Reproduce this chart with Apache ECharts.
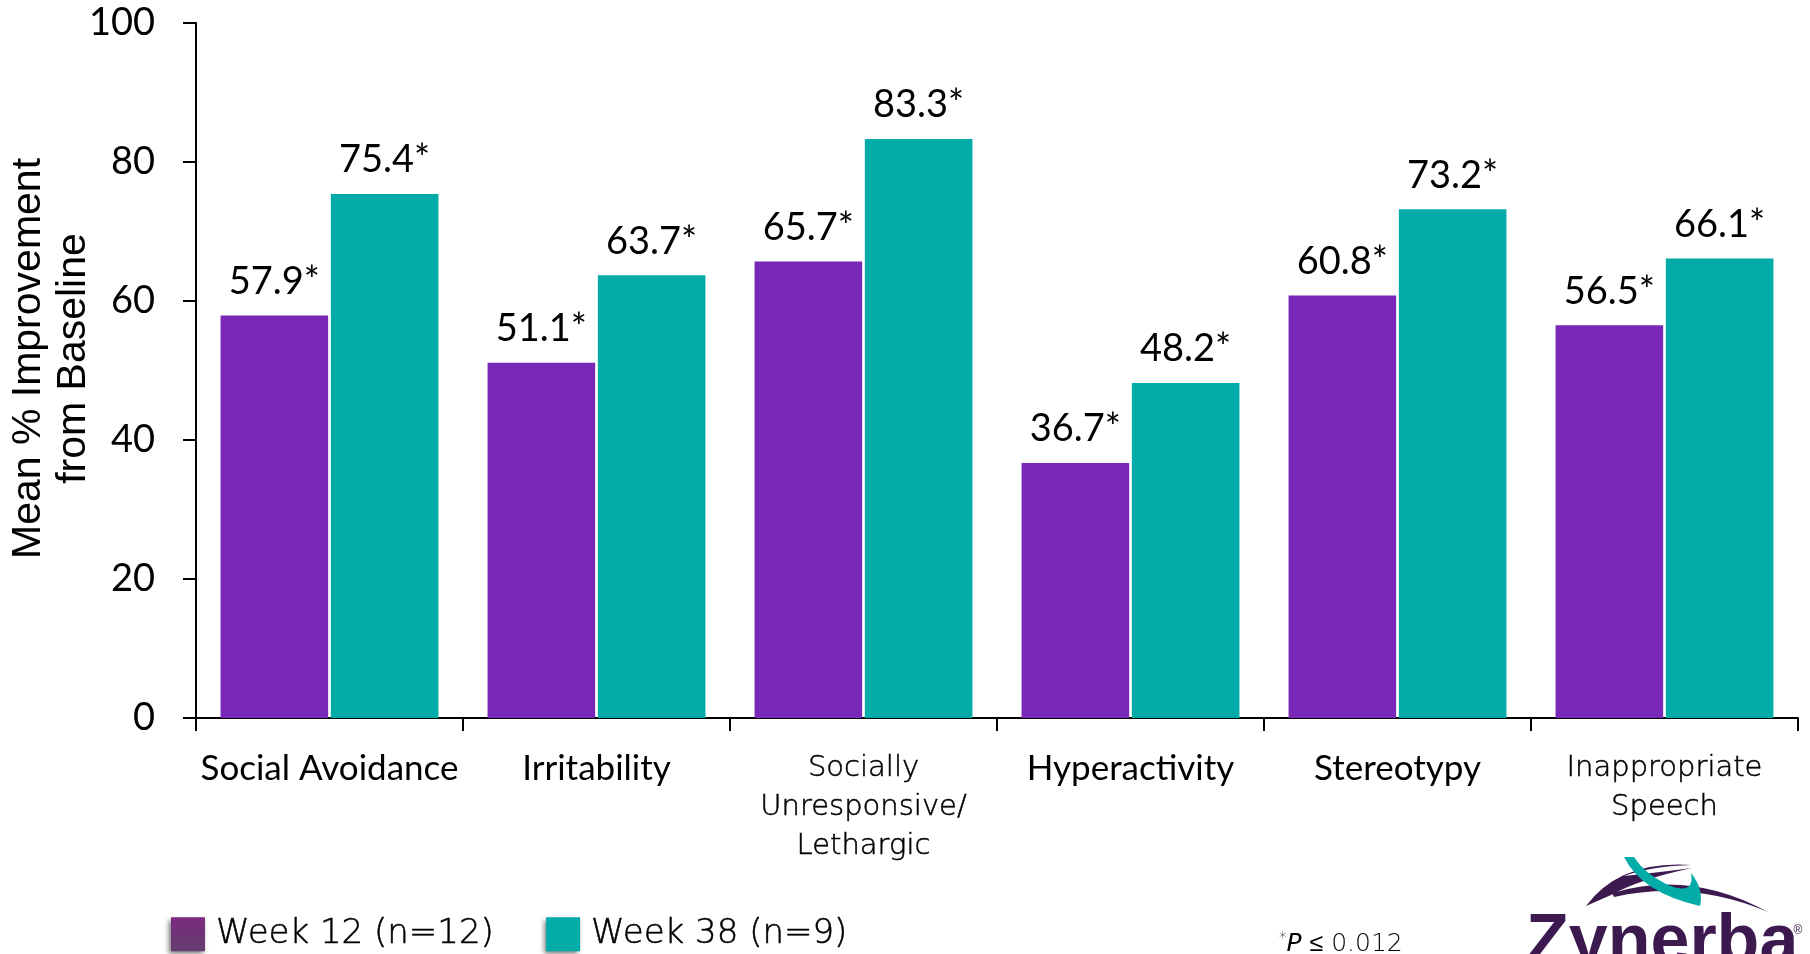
<!DOCTYPE html>
<html>
<head>
<meta charset="utf-8">
<title>Mean % Improvement from Baseline</title>
<script src="https://cdn.jsdelivr.net/npm/echarts@6/dist/echarts.min.js"></script>
<style>
  html, body { margin: 0; padding: 0; background: #ffffff; }
  #chart { width: 1810px; height: 954px; }
</style>
</head>
<body>
<div id="chart"></div>
<script>
// ABC subscale categories
const categories = [
  'Social Avoidance',
  'Irritability',
  'Socially\nUnresponsive/\nLethargic',
  'Hyperactivity',
  'Stereotypy',
  'Inappropriate\nSpeech'
];

// Mean % improvement from baseline per visit
const week12Name = 'Week 12 (n=12)';
const week38Name = 'Week 38 (n=9)';
const week12 = [57.9, 51.1, 65.7, 36.7, 60.8, 56.5];
const week38 = [75.4, 63.7, 83.3, 48.2, 73.2, 66.1];

// Y axis ticks
const yTicks = [0, 20, 40, 60, 80, 100];

const footnote = 'P';
const footnoteTail = ' \u2264 0.012';

const PURPLE = '#7827B6';
const TEAL = '#00ABA8';
const LOGO = '#3C1A4F';
const MAIN_FONT = 'Lato, "Open Sans", sans-serif';
const THIN_FONT = '"DejaVu Sans", sans-serif';

// categories written in the lighter face
const thinLabelIdx = [2, 5];

// swoosh shapes of the company mark
echarts.graphic.registerShape('swooshBig', echarts.graphic.extendPath(
  'M1586 906 Q1620 860 1692 865 Q1652 866 1624 876 Q1662 872 1692 868 Q1640 879 1611 895 Z', {}));
echarts.graphic.registerShape('swooshThin', echarts.graphic.extendPath(
  'M1612 893 Q1690 869 1768 912 Q1692 880 1614 897 Z', {}));
echarts.graphic.registerShape('swooshTeal', echarts.graphic.extendPath(
  'M1624 857 Q1642 893 1700 906 Q1704 889 1691 873 Q1695 897 1666 884 Q1644 873 1634 857 Z', {}));

const chart = echarts.init(document.getElementById('chart'), null, { renderer: 'canvas' });

const yMin = yTicks[0];
const yMax = yTicks[yTicks.length - 1];
const yStep = yTicks[1] - yTicks[0];

// light face, slightly thickened with a hairline outline
const thinText = {
  fontFamily: THIN_FONT,
  fontWeight: 200,
  color: '#000',
  textBorderColor: '#000',
  textBorderWidth: 0.5
};

const option = {
  backgroundColor: '#ffffff',
  animation: false,
  grid: { left: 196, right: 12, top: 23, bottom: 236, containLabel: false, outerBoundsMode: 'none' },
  legend: {
    left: 166,
    top: 912,
    itemWidth: 34,
    itemHeight: 34,
    itemGap: 52,
    icon: 'rect',
    selectedMode: false,
    textStyle: Object.assign({}, thinText, {
      fontSize: 34,
      padding: [0, 0, 0, 6]
    }),
    data: [
      {
        name: week12Name,
        itemStyle: {
          color: {
            type: 'linear', x: 0, y: 0, x2: 0, y2: 1,
            colorStops: [{ offset: 0, color: '#7B2A80' }, { offset: 1, color: '#643D6E' }]
          },
          shadowBlur: 5, shadowOffsetX: -2, shadowOffsetY: 3, shadowColor: 'rgba(0,0,0,0.55)'
        }
      },
      {
        name: week38Name,
        itemStyle: {
          color: TEAL,
          shadowBlur: 5, shadowOffsetX: -2, shadowOffsetY: 3, shadowColor: 'rgba(0,0,0,0.55)'
        }
      }
    ]
  },
  xAxis: {
    type: 'category',
    data: categories,
    axisLine: { show: true, lineStyle: { color: '#000', width: 2 } },
    axisTick: { show: true, length: 13, lineStyle: { color: '#000', width: 2 } },
    axisLabel: {
      interval: 0,
      margin: 31,
      color: '#000',
      fontFamily: MAIN_FONT,
      fontSize: 35,
      lineHeight: 39,
      formatter: function (value, idx) {
        if (thinLabelIdx.indexOf(idx) >= 0) {
          return value.split('\n').map(function (s) { return '{t|' + s + '}'; }).join('\n');
        }
        return value;
      },
      rich: {
        t: Object.assign({}, thinText, { fontSize: 29, lineHeight: 39 })
      }
    }
  },
  yAxis: {
    type: 'value',
    min: yMin,
    max: yMax,
    interval: yStep,
    name: 'Mean % Improvement\nfrom Baseline',
    nameLocation: 'middle',
    nameRotate: 90,
    nameGap: 100,
    nameMoveOverlap: false,
    nameTextStyle: {
      fontFamily: '"Liberation Sans", Arial, sans-serif',
      fontSize: 41,
      lineHeight: 45,
      color: '#000',
      padding: [0, 0, 0, 24]
    },
    axisLine: { show: true, lineStyle: { color: '#000', width: 2 } },
    axisTick: { show: true, length: 13, lineStyle: { color: '#000', width: 2 } },
    splitLine: { show: false },
    axisLabel: {
      margin: 41,
      color: '#000',
      fontFamily: MAIN_FONT,
      fontSize: 38
    }
  },
  series: [
    {
      name: week12Name,
      type: 'bar',
      data: week12,
      barGap: '2.5%',
      barCategoryGap: '18.4%',
      itemStyle: { color: PURPLE },
      label: {
        show: true,
        position: 'top',
        distance: 15,
        formatter: function (p) { return p.value + '*'; },
        color: '#000',
        fontFamily: MAIN_FONT,
        fontSize: 38
      }
    },
    {
      name: week38Name,
      type: 'bar',
      data: week38,
      barGap: '2.5%',
      barCategoryGap: '18.4%',
      itemStyle: { color: TEAL },
      label: {
        show: true,
        position: 'top',
        distance: 15,
        formatter: function (p) { return p.value + '*'; },
        color: '#000',
        fontFamily: MAIN_FONT,
        fontSize: 38
      }
    }
  ],
  graphic: [
    // significance note
    {
      type: 'text',
      x: 1279,
      y: 932,
      style: {
        text: '{s|*}{i|' + footnote + '}{n|' + footnoteTail + '}',
        rich: {
          s: { fontFamily: THIN_FONT, fontWeight: 200, fontSize: 15, fill: '#000', padding: [0, 0, 10, 0] },
          i: { fontFamily: THIN_FONT, fontWeight: 200, fontStyle: 'italic', fontSize: 25, fill: '#000' },
          n: { fontFamily: THIN_FONT, fontWeight: 200, fontSize: 25, fill: '#000' }
        }
      }
    },
    // company mark
    { type: 'swooshBig', silent: true, style: { fill: LOGO } },
    { type: 'swooshThin', silent: true, style: { fill: LOGO } },
    { type: 'swooshTeal', silent: true, style: { fill: TEAL } },
    {
      type: 'text',
      x: 1526,
      y: 944,
      silent: true,
      style: {
        text: 'Zynerba',
        fontFamily: '"Liberation Sans", Arial, sans-serif',
        fontWeight: 'bold',
        fontSize: 70,
        fill: LOGO,
        verticalAlign: 'middle',
        align: 'left'
      }
    },
    {
      type: 'text',
      x: 1798,
      y: 931,
      silent: true,
      style: {
        text: '\u00AE',
        fontFamily: '"Liberation Sans", Arial, sans-serif',
        fontSize: 12,
        fill: LOGO,
        verticalAlign: 'middle',
        align: 'center'
      }
    }
  ]
};

chart.setOption(option);
</script>
</body>
</html>
